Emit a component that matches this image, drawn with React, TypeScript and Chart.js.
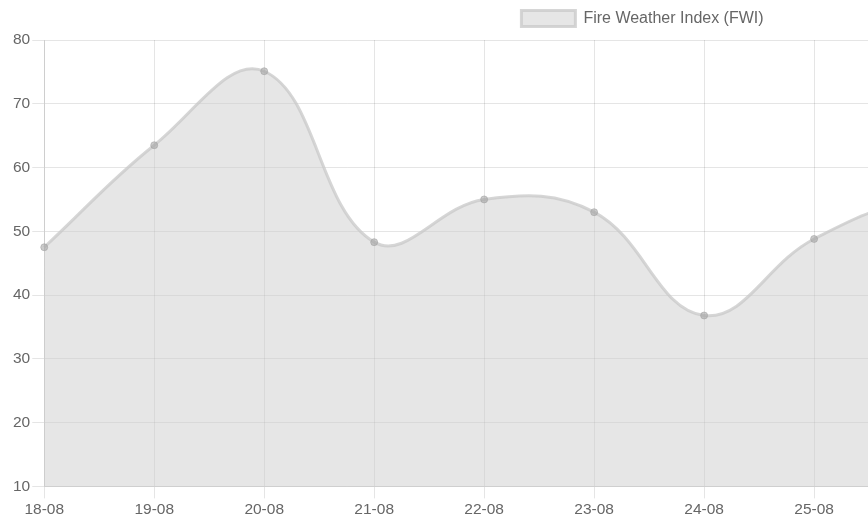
import React, { useEffect, useRef } from "react";
import { Chart, registerables } from "chart.js";

Chart.register(...registerables);

const labels = ["18-08", "19-08", "20-08", "21-08", "22-08", "23-08", "24-08", "25-08", "26-08", "27-08", "28-08", "29-08"];
const fwiValues = [47.5, 63.5, 75.1, 48.3, 55.0, 53.0, 36.8, 48.8, 54.5, 50.0, 42.0, 38.0];
const seriesLabel = "Fire Weather Index (FWI)";
const yMin = 10;
const yMax = 80;
const yStep = 10;

const FONT = "'Liberation Sans', Arial, Helvetica, sans-serif";

export default function App() {
  const ref = useRef<HTMLCanvasElement | null>(null);

  useEffect(() => {
    if (!ref.current) return;
    const legendFixPlugin = {
      id: "legendFix",
      beforeInit(chart: any) {
        const lg = chart.legend;
        if (lg) {
          const orig = lg.fit.bind(lg);
          lg.fit = function () {
            orig();
            this.height = 40;
          };
        }
      },
      afterLayout(chart: any) {
        const lg = chart.legend;
        if (lg) {
          lg.left += 10;
          lg.right += 10;
        }
      },
    };
    const chart = new Chart(ref.current, {
      type: "line",
      data: {
        labels,
        datasets: [
          {
            label: seriesLabel,
            data: fwiValues,
            fill: true,
            tension: 0.4,
            backgroundColor: "rgba(205,205,205,0.5)",
            borderColor: "rgba(200,200,200,0.75)",
            borderWidth: 3,
            pointRadius: 3.5,
            pointBackgroundColor: "rgba(160,160,160,0.55)",
            pointBorderColor: "rgba(160,160,160,0.55)",
            pointBorderWidth: 1,
          },
        ],
      },
      options: {
        responsive: true,
        maintainAspectRatio: false,
        animation: false,
        layout: { padding: { left: 11, right: 45, top: 0, bottom: 0 } },
        plugins: {
          legend: {
            display: true,
            position: "top",
            labels: {
              boxWidth: 54,
              boxHeight: 16,
              padding: 10.5,
              color: "#666",
              font: { family: FONT, size: 16 },
            },
          },
          tooltip: { enabled: false },
        },
        scales: {
          x: {
            grid: { color: "rgba(0,0,0,0.1)", drawTicks: true, tickLength: 12 },
            border: { color: "rgba(0,0,0,0.1)" },
            ticks: { color: "#666", padding: 2, maxRotation: 0, font: { family: FONT, size: 15.5 } },
          },
          y: {
            min: yMin,
            max: yMax,
            grid: { color: "rgba(0,0,0,0.1)", drawTicks: true, tickLength: 12 },
            border: { color: "rgba(0,0,0,0.1)" },
            ticks: { stepSize: yStep, color: "#666", padding: 2, font: { family: FONT, size: 15.5 } },
          },
        },
      },
      plugins: [legendFixPlugin],
    });
    return () => chart.destroy();
  }, []);

  return (
    <div style={{ position: "absolute", left: 0, top: 0, width: 868, height: 527, overflow: "hidden", background: "#fff" }}>
      <div style={{ position: "relative", width: 1299, height: 521 }}>
        <canvas ref={ref} />
      </div>
    </div>
  );
}
